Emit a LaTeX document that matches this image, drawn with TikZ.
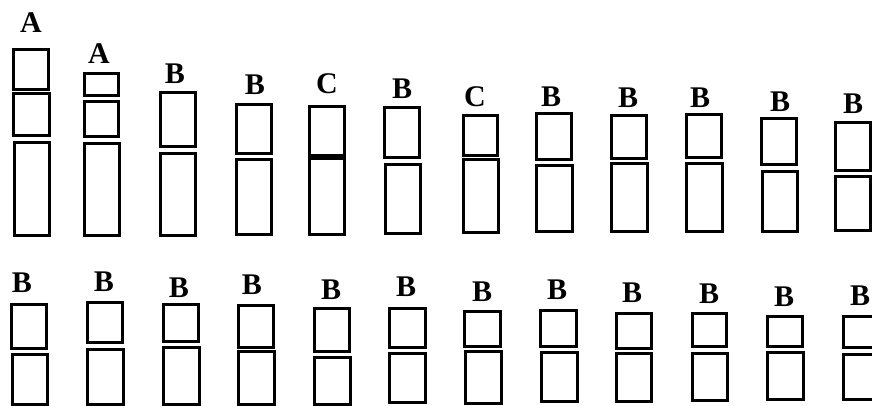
\documentclass[tikz,border=0pt]{standalone}
\usepackage{fontspec}
\setmainfont{Liberation Serif}
\usepackage{tikz}
\tikzset{
  seg/.style={draw=black,line width=1.5pt,line join=miter},
  band/.style={draw=black,line width=2.6pt},
  lbl/.style={font=\fontsize{15}{15}\selectfont\bfseries,inner sep=0pt,anchor=center}
}

\begin{document}
\begin{tikzpicture}[x=0.5pt,y=-0.5pt]

  \useasboundingbox (0,0) rectangle (872,406);
  \clip (0,0) rectangle (872,406);

  % upper row: labels
  \node[lbl] (uA1) at (31,23)  {A};
  \node[lbl] (uA2) at (99,54)  {A};
  \node[lbl] (uB3) at (175,74) {B};
  \node[lbl] (uB4) at (255,85) {B};
  \node[lbl] (uC5) at (327,84) {C};
  \node[lbl] (uB6) at (402,89) {B};
  \node[lbl] (uC7) at (475,97) {C};
  \node[lbl] (uB8) at (551,97) {B};
  \node[lbl] (uB9) at (628,98) {B};
  \node[lbl] (uB10) at (700,98) {B};
  \node[lbl] (uB11) at (780,102) {B};
  \node[lbl] (uB12) at (853,104) {B};

  % upper row: segments
  \draw[seg] (13,50) rectangle (48,90);
  \draw[seg] (13,94) rectangle (49,136);
  \draw[seg] (14,143) rectangle (49,236);

  \draw[seg] (84,74) rectangle (118,96);
  \draw[seg] (84,102) rectangle (118,137);
  \draw[seg] (84,144) rectangle (119,236);

  \draw[seg] (160,93) rectangle (195,147);
  \draw[seg] (160,154) rectangle (195,236);

  \draw[seg] (236,105) rectangle (271,154);
  \draw[seg] (236,160) rectangle (271,235);

  \draw[seg] (309,107) rectangle (344,235);
  \draw[band] (309,157) -- (344,157);

  \draw[seg] (384,108) rectangle (419,158);
  \draw[seg] (385,165) rectangle (420,234);

  \draw[seg] (463,116) rectangle (497,156);
  \draw[seg] (463,160) rectangle (498,233);

  \draw[seg] (536,114) rectangle (571,160);
  \draw[seg] (536,166) rectangle (572,232);

  \draw[seg] (611,116) rectangle (646,159);
  \draw[seg] (611,164) rectangle (647,232);

  \draw[seg] (686,115) rectangle (721,158);
  \draw[seg] (686,164) rectangle (722,232);

  \draw[seg] (761,119) rectangle (796,165);
  \draw[seg] (762,172) rectangle (797,232);

  \draw[seg] (835,123) rectangle (870,171);
  \draw[seg] (835,177) rectangle (870,231);

  % lower row: labels
  \node[lbl] (lB1) at (22,283)  {B};
  \node[lbl] (lB2) at (104,282) {B};
  \node[lbl] (lB3) at (179,288) {B};
  \node[lbl] (lB4) at (252,285) {B};
  \node[lbl] (lB5) at (331,290) {B};
  \node[lbl] (lB6) at (406,287) {B};
  \node[lbl] (lB7) at (482,292) {B};
  \node[lbl] (lB8) at (557,290) {B};
  \node[lbl] (lB9) at (632,293) {B};
  \node[lbl] (lB10) at (709,294) {B};
  \node[lbl] (lB11) at (784,297) {B};
  \node[lbl] (lB12) at (860,296) {B};

  % lower row: segments
  \draw[seg] (11,304) rectangle (46,348);
  \draw[seg] (12,354) rectangle (47,404);

  \draw[seg] (87,302) rectangle (122,342);
  \draw[seg] (87,349) rectangle (123,404);

  \draw[seg] (163,304) rectangle (198,341);
  \draw[seg] (163,347) rectangle (199,404);

  \draw[seg] (238,305) rectangle (273,347);
  \draw[seg] (238,351) rectangle (274,404);

  \draw[seg] (314,308) rectangle (349,351);
  \draw[seg] (314,357) rectangle (350,404);

  \draw[seg] (389,308) rectangle (425,347);
  \draw[seg] (389,353) rectangle (425,402);

  \draw[seg] (464,311) rectangle (500,346);
  \draw[seg] (465,351) rectangle (501,403);

  \draw[seg] (540,310) rectangle (576,346);
  \draw[seg] (541,352) rectangle (577,401);

  \draw[seg] (616,313) rectangle (651,348);
  \draw[seg] (616,353) rectangle (651,401);

  \draw[seg] (692,313) rectangle (726,346);
  \draw[seg] (692,353) rectangle (727,400);

  \draw[seg] (767,316) rectangle (802,346);
  \draw[seg] (767,352) rectangle (803,399);

  \draw[seg] (843,316) rectangle (880,347);
  \draw[seg] (843,354) rectangle (880,399);

\end{tikzpicture}
\end{document}
